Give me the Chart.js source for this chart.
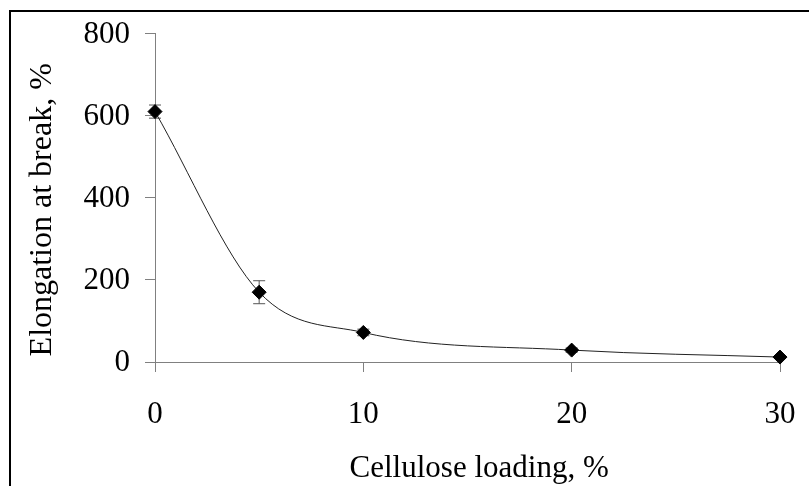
<!DOCTYPE html>
<html>
<head>
<meta charset="utf-8">
<script src="https://cdn.jsdelivr.net/npm/chart.js@4"></script>
<style>
    body { margin: 0; background: #fff; }
    #wrap { width: 809px; height: 486px; }
</style>
</head>
<body>
<div id="wrap"><canvas id="elongationChart" width="809" height="486"></canvas></div>
<script>
// Data
const loading = [0, 5, 10, 20, 30];
const elongation = [610, 170, 72, 29, 12];
const elongationErr = [16, 28, 8, 5, 3];
const xTicks = [0, 10, 20, 30];
const yTicks = [0, 200, 400, 600, 800];

const serif = "'Liberation Serif', 'Times New Roman', serif";
const axisGray = '#808080';

// Frame around the whole picture
const framePlugin = {
    id: 'frame',
    beforeDraw(chart) {
        const ctx = chart.ctx;
        ctx.save();
        ctx.fillStyle = '#fff';
        ctx.fillRect(0, 0, chart.width, chart.height);
        ctx.strokeStyle = '#000';
        ctx.lineWidth = 2;
        ctx.strokeRect(10, 11, chart.width + 20, chart.height + 20);
        ctx.restore();
    }
};

// Vertical error bars with caps
const errorBarPlugin = {
    id: 'errorBars',
    beforeDatasetsDraw(chart) {
        const ctx = chart.ctx;
        const xs = chart.scales.x;
        const ys = chart.scales.y;
        ctx.save();
        ctx.strokeStyle = '#555';
        ctx.lineWidth = 1;
        loading.forEach((x, i) => {
            const px = xs.getPixelForValue(x);
            const top = ys.getPixelForValue(elongation[i] + elongationErr[i]);
            const bottom = ys.getPixelForValue(elongation[i] - elongationErr[i]);
            ctx.beginPath();
            ctx.moveTo(px, top);
            ctx.lineTo(px, bottom);
            ctx.moveTo(px - 6, top);
            ctx.lineTo(px + 6, top);
            ctx.moveTo(px - 6, bottom);
            ctx.lineTo(px + 6, bottom);
            ctx.stroke();
        });
        ctx.restore();
    }
};

function initializeChart() {
    const ctx = document.getElementById('elongationChart').getContext('2d');
    const points = loading.map((x, i) => ({ x: x, y: elongation[i] }));

    new Chart(ctx, {
        type: 'scatter',
        data: {
            datasets: [{
                data: points,
                showLine: true,
                cubicInterpolationMode: 'monotone',
                clip: false,
                borderColor: '#222',
                borderWidth: 1,
                pointStyle: 'rectRot',
                pointRadius: 7,
                pointBackgroundColor: '#000',
                pointBorderColor: '#000',
                pointBorderWidth: 1
            }]
        },
        options: {
            responsive: false,
            animation: false,
            devicePixelRatio: 1,
            layout: {
                padding: { left: 0, right: 29, top: 31, bottom: 0 }
            },
            scales: {
                x: {
                    type: 'linear',
                    min: 0,
                    max: 30,
                    afterFit: (scale) => {
                        scale.height = 124;
                        scale.paddingLeft = 0;
                        scale.paddingRight = 0;
                    },
                    afterBuildTicks: (scale) => { scale.ticks = xTicks.map(v => ({ value: v })); },
                    ticks: {
                        color: '#000',
                        padding: 24,
                        font: { family: serif, size: 31 }
                    },
                    grid: {
                        drawOnChartArea: false,
                        tickLength: 10,
                        color: axisGray
                    },
                    border: { color: axisGray, width: 1 },
                    title: {
                        display: true,
                        text: '   Cellulose loading, %',
                        color: '#000',
                        font: { family: serif, size: 31, lineHeight: 1.1 },
                        padding: { top: 0, bottom: 0 }
                    }
                },
                y: {
                    min: 0,
                    max: 800,
                    afterFit: (scale) => { scale.width = 155; },
                    afterBuildTicks: (scale) => { scale.ticks = yTicks.map(v => ({ value: v })); },
                    ticks: {
                        color: '#000',
                        padding: 15,
                        labelOffset: 1,
                        font: { family: serif, size: 31 }
                    },
                    grid: {
                        drawOnChartArea: false,
                        tickLength: 10,
                        color: axisGray
                    },
                    border: { color: axisGray, width: 1 },
                    title: {
                        display: true,
                        text: 'Elongation at break, %   ',
                        color: '#000',
                        font: { family: serif, size: 32, lineHeight: 1.2 },
                        padding: { top: 23, bottom: 0 }
                    }
                }
            },
            plugins: {
                legend: { display: false },
                tooltip: { enabled: false }
            }
        },
        plugins: [framePlugin, errorBarPlugin]
    });
}

initializeChart();
</script>
</body>
</html>
